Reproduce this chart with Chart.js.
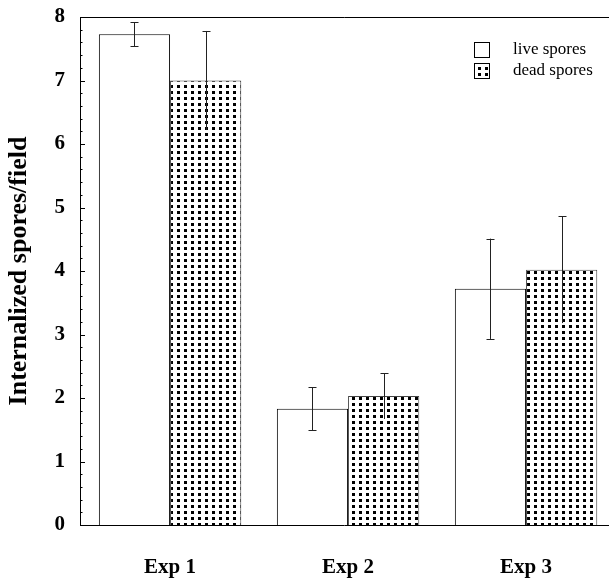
<!DOCTYPE html>
<html>
<head>
<meta charset="utf-8">
<script src="https://cdn.jsdelivr.net/npm/chart.js@4/dist/chart.umd.min.js"></script>
<style>
  html, body { margin: 0; padding: 0; background: #fff; }
  #wrap { width: 609px; height: 582px; }
</style>
</head>
<body>
<div id="wrap"><canvas id="myChart"></canvas></div>
<script>
const categories = ["Exp 1", "Exp 2", "Exp 3"];
const seriesNames = ["live spores", "dead spores"];
const liveValues = [7.73, 1.83, 3.72];
const liveErrors = [0.19, 0.34, 0.79];
const deadValues = [7.0, 2.03, 4.02];
const deadErrors = [0.78, 0.36, 0.84];
const yTicks = [0, 1, 2, 3, 4, 5, 6, 7, 8];

const serif = "'Liberation Serif', 'Times New Roman', serif";

// dotted fill for the dead spores bars
function dotPattern() {
  const c = document.createElement("canvas");
  c.width = 7;
  c.height = 6;
  const g = c.getContext("2d");
  g.fillStyle = "#fff";
  g.fillRect(0, 0, 7, 6);
  g.fillStyle = "#000";
  g.fillRect(2, 1, 3, 3);
  return g.createPattern(c, "repeat");
}

document.addEventListener(
  "DOMContentLoaded",
  () => {
    const ctx = document.getElementById("myChart").getContext("2d");
    const pattern = dotPattern();

    const errorBars = {
      id: "errorBars",
      afterDatasetsDraw(chart) {
        const g = chart.ctx;
        const y = chart.scales.y;
        g.save();
        g.strokeStyle = "#222";
        g.lineWidth = 1;
        chart.data.datasets.forEach((ds, di) => {
          const meta = chart.getDatasetMeta(di);
          meta.data.forEach((bar, i) => {
            const v = ds.data[i].y;
            const e = ds.errors[i];
            const x = Math.round(bar.x) + 0.5;
            const top = y.getPixelForValue(v + e);
            const bot = y.getPixelForValue(v - e);
            g.beginPath();
            g.moveTo(x, top);
            g.lineTo(x, bot);
            g.moveTo(x - 4, Math.round(top) + 0.5);
            g.lineTo(x + 4, Math.round(top) + 0.5);
            if (ds.lowerCap) {
              g.moveTo(x - 4, Math.round(bot) + 0.5);
              g.lineTo(x + 4, Math.round(bot) + 0.5);
            }
            g.stroke();
          });
        });
        g.restore();
      }
    };

    const frame = {
      id: "frame",
      afterDraw(chart) {
        const g = chart.ctx;
        const a = chart.chartArea;
        const y = chart.scales.y;
        g.save();
        g.strokeStyle = "#000";
        g.lineWidth = 1;
        g.beginPath();
        // top line, left axis, bottom axis
        g.moveTo(a.left + 0.5, a.top + 0.5);
        g.lineTo(chart.width, a.top + 0.5);
        g.moveTo(a.left + 0.5, a.top);
        g.lineTo(a.left + 0.5, a.bottom);
        g.moveTo(a.left, a.bottom + 0.5);
        g.lineTo(chart.width, a.bottom + 0.5);
        // inward ticks
        for (let k = 0; k <= 40; k++) {
          const v = k * 0.2;
          const py = Math.round(y.getPixelForValue(v)) + 0.5;
          const len = k % 5 === 0 ? 5 : 2.5;
          g.moveTo(a.left, py);
          g.lineTo(a.left + len, py);
        }
        g.stroke();

        // legend
        const lx = 474, ly = [42, 63];
        g.font = "17px " + serif;
        g.textBaseline = "middle";
        g.textAlign = "left";
        chart.data.datasets.forEach((ds, di) => {
          g.fillStyle = ds.backgroundColor;
          g.fillRect(lx, ly[di], 15, 15);
          g.strokeStyle = "#000";
          g.strokeRect(lx + 0.5, ly[di] + 0.5, 15, 15);
          g.fillStyle = "#000";
          g.fillText(ds.label, 513, ly[di] + 8);
        });
        g.restore();
      }
    };

    const myChart = new Chart(ctx, {
      type: "bar",
      data: {
        datasets: [
          {
            label: seriesNames[0],
            data: liveValues.map((v, i) => ({ x: i + 1, y: v })),
            errors: liveErrors,
            lowerCap: true,
            backgroundColor: "#fff",
            borderColor: "#000",
            borderWidth: 1,
            borderSkipped: "bottom"
          },
          {
            label: seriesNames[1],
            data: deadValues.map((v, i) => ({ x: i + 1, y: v })),
            errors: deadErrors,
            lowerCap: false,
            backgroundColor: pattern,
            borderColor: "#444",
            borderWidth: 1,
            borderSkipped: "bottom"
          }
        ]
      },
      options: {
        responsive: true,
        maintainAspectRatio: false,
        animation: false,
        layout: { padding: { top: 17, right: 0, left: 0, bottom: 0 } },
        plugins: {
          legend: { display: false },
          tooltip: { enabled: false }
        },
        datasets: {
          bar: { categoryPercentage: 0.8, barPercentage: 1.0 }
        },
        scales: {
          x: {
            type: "linear",
            offset: false,
            min: 0.494,
            max: 3.466,
            grid: { display: false, drawTicks: false },
            border: { display: false },
            afterBuildTicks(s) {
              s.ticks = categories.map((c, i) => ({ value: i + 1 }));
            },
            afterFit(s) {
              s.height = 57;
              s.paddingLeft = 0;
              s.paddingRight = 0;
            },
            ticks: {
              padding: 30,
              color: "#000",
              font: { family: serif, size: 21, weight: "bold" },
              callback: v => categories[v - 1]
            }
          },
          y: {
            min: 0,
            max: 8,
            grid: { display: false, drawTicks: false },
            border: { display: false },
            afterBuildTicks(s) {
              s.ticks = yTicks.map(v => ({ value: v }));
            },
            afterFit(s) {
              s.width = 80;
              s.paddingTop = 0;
              s.paddingBottom = 0;
            },
            title: {
              display: true,
              text: "Internalized spores/field",
              color: "#000",
              font: { family: serif, size: 26, weight: "bold" },
              padding: { top: 4, bottom: 0 }
            },
            ticks: {
              padding: 15,
              color: "#000",
              font: { family: serif, size: 21, weight: "bold" }
            }
          }
        }
      },
      plugins: [errorBars, frame]
    });
  },
  false
);
</script>
</body>
</html>
